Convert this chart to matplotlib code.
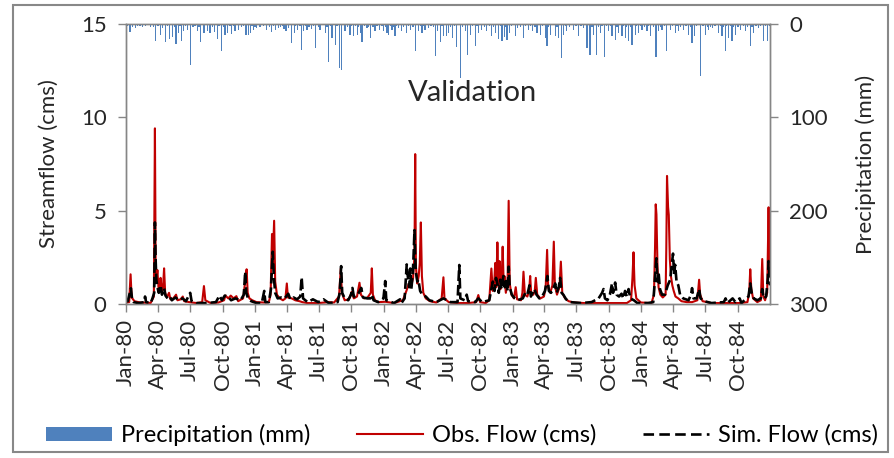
import numpy as np
import pandas as pd
import matplotlib
matplotlib.use("Agg")
import matplotlib.pyplot as plt
import matplotlib.dates as mdates
from matplotlib.lines import Line2D
from matplotlib.patches import Patch, Rectangle

plt.rcParams['font.family'] = ['Lato', 'DejaVu Sans']

start = pd.Timestamp('1980-01-01')

obs_day = [0, 9, 13, 16, 24, 40, 70, 79, 82, 84, 86, 89, 92, 96, 98, 102, 105, 108, 111, 116,
           122, 126, 134, 142, 146, 155, 161, 165, 180, 200, 216, 221, 225, 240, 262, 278, 282,
           290, 297, 305, 313, 318, 332, 338, 342, 345, 350, 358, 370, 390, 405, 410, 414, 416,
           420, 423, 428, 436, 445, 452, 456, 459, 470, 480, 492, 500, 515, 545, 575, 590, 604,
           609, 612, 620, 632, 640, 646, 655, 662, 666, 675, 685, 694, 697, 700, 706, 715, 735,
           760, 785, 795, 802, 808, 814, 818, 820, 822, 826, 830, 833, 836, 839, 843, 850, 862,
           880, 895, 900, 903, 915, 940, 970, 993, 999, 1004, 1020, 1030, 1036, 1040, 1044, 1047,
           1050, 1053, 1056, 1059, 1062, 1065, 1068, 1071, 1073, 1077, 1082, 1085, 1088, 1093,
           1100, 1105, 1109, 1120, 1124, 1127, 1131, 1138, 1143, 1146, 1149, 1155, 1159, 1162,
           1166, 1175, 1185, 1190, 1194, 1197, 1203, 1209, 1213, 1216, 1222, 1229, 1233, 1237,
           1245, 1255, 1270, 1300, 1340, 1380, 1420, 1432, 1436, 1439, 1442, 1447, 1460, 1490,
           1497, 1500, 1502, 1504, 1507, 1510, 1515, 1522, 1530, 1532, 1534, 1537, 1539, 1542,
           1545, 1549, 1553, 1558, 1566, 1575, 1590, 1605, 1620, 1625, 1628, 1635, 1660, 1700,
           1740, 1762, 1767, 1770, 1773, 1778, 1790, 1800, 1804, 1807, 1812, 1818, 1822, 1824, 1826]
obs_cms = [0.08, 0.1, 1.59, 0.35, 0.15, 0.08, 0.06, 0.4, 9.41, 2.2, 1.2, 1.82, 0.9, 0.7, 1.4, 0.6,
           0.9, 1.91, 0.6, 0.35, 0.6, 0.25, 0.3, 0.5, 0.2, 0.25, 0.4, 0.15, 0.1, 0.05, 0.1, 0.96,
           0.2, 0.05, 0.08, 0.2, 0.45, 0.3, 0.45, 0.3, 0.42, 0.15, 0.3, 1.2, 1.86, 0.6, 0.3, 0.2,
           0.1, 0.08, 0.1, 0.5, 3.75, 2.2, 4.46, 1.2, 0.5, 0.3, 0.2, 0.3, 1.1, 0.35, 0.3, 0.2, 0.15,
           0.1, 0.05, 0.05, 0.1, 0.08, 0.4, 1.9, 0.6, 0.2, 0.25, 0.65, 0.3, 0.4, 1.14, 0.5, 0.3,
           0.35, 0.6, 1.91, 0.5, 0.2, 0.1, 0.12, 0.05, 0.2, 0.7, 1.1, 0.9, 1.4, 2.6, 8.03, 2.0,
           1.1, 1.5, 2.2, 4.37, 1.5, 0.6, 0.3, 0.15, 0.08, 0.3, 1.43, 0.3, 0.1, 0.05, 0.05, 0.1,
           0.48, 0.1, 0.05, 0.2, 1.9, 0.7, 1.1, 2.2, 0.9, 3.3, 1.0, 2.3, 0.8, 1.2, 3.07, 1.0, 1.5,
           0.6, 1.2, 5.53, 1.1, 0.5, 0.3, 0.9, 0.25, 0.2, 0.6, 1.73, 0.5, 0.4, 0.7, 1.5, 0.5, 0.5,
           0.7, 1.4, 0.5, 0.3, 0.4, 0.9, 2.9, 0.9, 0.6, 1.0, 3.34, 1.0, 0.5, 0.9, 2.27, 0.6, 0.3,
           0.15, 0.08, 0.05, 0.05, 0.05, 0.05, 0.2, 1.4, 2.77, 1.0, 0.3, 0.08, 0.05, 0.5, 3.0,
           5.34, 4.8, 2.0, 0.9, 0.5, 0.35, 0.5, 3.0, 6.86, 5.2, 4.77, 2.4, 1.5, 1.0, 0.7, 0.4, 0.3,
           0.15, 0.1, 0.1, 0.2, 1.3, 0.5, 0.15, 0.05, 0.05, 0.05, 0.1, 0.6, 1.86, 0.8, 0.3, 0.1,
           0.2, 2.41, 0.4, 0.2, 0.6, 5.18, 2.5, 2.0]

# simulated flow (cms)
sim_day = [0, 5, 14, 17, 22, 35, 52, 54, 57, 70, 75, 80, 82, 84, 86, 89, 93, 98, 102, 108, 112,
           118, 124, 130, 140, 150, 160, 170, 182, 186, 200, 230, 255, 265, 272, 280, 290, 298,
           310, 325, 334, 338, 341, 346, 355, 370, 385, 392, 395, 405, 411, 416, 419, 423, 430,
           440, 450, 460, 466, 475, 485, 494, 498, 502, 515, 530, 545, 560, 575, 600, 606, 610,
           613, 620, 630, 638, 642, 646, 655, 660, 667, 672, 684, 693, 697, 702, 715, 730, 735,
           738, 760, 777, 781, 790, 796, 799, 803, 806, 809, 813, 815, 818, 820, 822, 826, 829,
           834, 840, 850, 860, 880, 900, 920, 940, 945, 948, 960, 966, 970, 990, 999, 1010, 1030,
           1036, 1040, 1045, 1049, 1053, 1057, 1061, 1065, 1070, 1074, 1078, 1082, 1085, 1088,
           1094, 1100, 1110, 1125, 1132, 1138, 1144, 1148, 1153, 1158, 1164, 1172, 1180, 1188,
           1195, 1199, 1205, 1211, 1217, 1221, 1227, 1231, 1235, 1240, 1248, 1260, 1290, 1320,
           1340, 1350, 1354, 1358, 1365, 1372, 1378, 1381, 1387, 1391, 1398, 1405, 1410, 1415,
           1420, 1425, 1430, 1440, 1450, 1480, 1495, 1500, 1504, 1507, 1510, 1514, 1520, 1528,
           1536, 1543, 1548, 1551, 1554, 1557, 1561, 1566, 1571, 1580, 1595, 1602, 1605, 1609,
           1618, 1625, 1629, 1640, 1660, 1695, 1700, 1705, 1720, 1728, 1740, 1745, 1765, 1770,
           1774, 1780, 1790, 1800, 1804, 1808, 1815, 1820, 1822, 1826]
sim_cms = [0.2, 0.15, 0.84, 0.3, 0.1, 0.05, 0.1, 0.4, 0.1, 0.05, 0.3, 0.6, 4.37, 2.4, 1.3, 0.9,
           0.6, 1.0, 0.5, 0.84, 0.45, 0.3, 0.4, 0.2, 0.35, 0.2, 0.3, 0.15, 0.6, 0.15, 0.05, 0.05,
           0.1, 0.45, 0.2, 0.45, 0.4, 0.2, 0.3, 0.2, 0.5, 1.73, 0.6, 0.3, 0.15, 0.05, 0.05, 0.7,
           0.1, 0.1, 0.8, 2.8, 1.5, 0.6, 0.3, 0.35, 0.3, 0.55, 0.25, 0.35, 0.25, 0.4, 1.43, 0.3,
           0.1, 0.25, 0.1, 0.25, 0.05, 0.1, 0.6, 2.03, 0.6, 0.3, 0.2, 0.5, 0.86, 0.4, 0.45, 0.6,
           0.86, 0.35, 0.3, 0.3, 0.5, 0.2, 0.1, 0.3, 1.23, 0.2, 0.05, 0.25, 0.05, 0.3, 2.12, 1.5,
           0.9, 1.9, 0.8, 1.6, 2.4, 3.96, 2.5, 1.7, 1.2, 1.3, 0.7, 0.5, 0.4, 0.2, 0.1, 0.3, 0.1,
           0.1, 2.09, 0.3, 0.2, 0.5, 0.15, 0.1, 0.3, 0.1, 0.2, 0.8, 1.2, 0.7, 1.4, 1.1, 0.6, 1.3,
           0.8, 1.5, 0.9, 1.3, 0.7, 2.0, 0.9, 0.5, 0.35, 0.2, 0.3, 0.6, 0.5, 1.0, 0.4, 0.6, 0.8,
           0.5, 0.3, 0.4, 0.7, 1.5, 0.7, 0.6, 0.8, 1.1, 0.6, 0.9, 1.4, 0.6, 0.5, 0.25, 0.1, 0.05,
           0.1, 0.3, 0.6, 0.8, 0.3, 0.2, 0.5, 1.1, 0.6, 1.15, 0.5, 0.4, 0.55, 0.3, 0.7, 0.4, 0.8,
           0.3, 0.2, 0.05, 0.05, 0.1, 1.4, 2.45, 1.2, 1.7, 0.8, 0.5, 0.5, 1.0, 1.3, 2.2, 2.7, 1.6,
           2.1, 1.2, 1.0, 0.5, 0.3, 0.2, 0.5, 0.85, 0.3, 0.3, 0.8, 0.3, 0.15, 0.05, 0.1, 0.3,
           0.05, 0.3, 0.1, 0.3, 0.05, 0.4, 1.1, 0.6, 0.3, 0.2, 0.3, 0.8, 0.3, 0.4, 1.4, 2.3, 1.0]

# daily precipitation (mm), rows of 15
precip_day = [11, 26, 84, 98, 111, 123, 132, 142, 148, 158, 163, 175, 182, 202, 212,
              221, 231, 238, 251, 259, 270, 281, 288, 300, 309, 319, 338, 342, 347, 352,
              361, 371, 399, 413, 423, 432, 448, 454, 470, 477, 486, 498, 503, 513, 527,
              538, 550, 565, 574, 584, 593, 605, 612, 621, 635, 645, 656, 664, 669, 683,
              694, 706, 719, 730, 740, 744, 754, 763, 773, 782, 796, 806, 820, 829, 839,
              848, 858, 877, 883, 891, 900, 908, 914, 926, 938, 948, 962, 969, 976, 990,
              999, 1009, 1023, 1037, 1047, 1056, 1066, 1073, 1080, 1087, 1104, 1111, 1127, 1141, 1153,
              1165, 1175, 1189, 1194, 1203, 1217, 1226, 1234, 1241, 1250, 1269, 1283, 1297, 1307, 1316,
              1326, 1335, 1345, 1357, 1368, 1378, 1387, 1397, 1406, 1416, 1425, 1435, 1444, 1453, 1463,
              1477, 1487, 1503, 1510, 1520, 1532, 1543, 1558, 1567, 1581, 1595, 1605, 1612, 1628, 1643,
              1652, 1662, 1680, 1690, 1699, 1709, 1718, 1728, 1742, 1756, 1770, 1780, 1794, 1808, 1818]
precip_mm = [8.6, 4.3, 17.9, 12.1, 19.3, 15.7, 14.3, 21.4, 9.6, 17.9, 7.9, 6.1, 44.3, 7.9, 19.3,
             9.6, 7.9, 9.6, 8.6, 15.7, 29.3, 11.4, 9.6, 10.7, 7.9, 6.1, 11.4, 11.4, 11.4, 10.0,
             6.1, 4.3, 6.1, 8.6, 6.1, 4.3, 5.0, 7.9, 20.4, 9.6, 6.1, 27.5, 7.9, 6.1, 5.0,
             25.7, 6.1, 9.6, 41.0, 15.0, 22.1, 47.1, 48.9, 7.1, 11.4, 13.2, 11.4, 9.6, 19.3, 4.3,
             15.0, 7.9, 6.1, 7.9, 9.6, 11.4, 6.1, 13.2, 4.3, 7.9, 9.6, 6.1, 29.3, 7.9, 9.6,
             6.1, 4.3, 34.6, 7.9, 19.3, 13.2, 13.2, 9.6, 15.0, 25.0, 57.9, 7.9, 32.9, 11.4, 23.9,
             9.6, 6.1, 7.9, 13.2, 9.6, 15.7, 18.6, 14.3, 16.8, 9.6, 13.2, 4.3, 15.0, 6.1, 7.9,
             9.6, 11.4, 15.0, 23.9, 11.4, 13.2, 15.0, 36.4, 11.4, 7.9, 6.1, 13.2, 4.3, 25.7, 32.9,
             11.4, 32.9, 9.6, 35.7, 7.9, 13.2, 16.8, 9.6, 13.2, 15.0, 18.6, 22.1, 11.4, 9.6, 6.1,
             7.9, 13.2, 35.7, 7.9, 6.1, 29.3, 6.1, 9.6, 7.9, 6.1, 11.4, 20.4, 13.2, 56.0, 11.4,
             6.1, 4.3, 9.6, 13.2, 29.3, 15.0, 18.6, 11.4, 6.1, 7.9, 23.9, 9.6, 4.3, 18.6, 18.6]

# light rain days, rows of 16
drizzle_day = [3, 18, 33, 40, 47, 55, 62, 70, 77, 91, 104, 117, 137, 153, 168, 190,
               196, 207, 226, 245, 264, 276, 295, 304, 328, 333, 357, 366, 380, 389, 406, 418,
               438, 443, 460, 481, 493, 508, 519, 532, 545, 557, 570, 580, 598, 628, 640, 651,
               660, 676, 688, 700, 712, 726, 735, 750, 759, 768, 787, 801, 814, 835, 845, 865,
               871, 896, 921, 931, 955, 983, 995, 1016, 1030, 1042, 1061, 1077, 1093, 1118, 1133, 1147,
               1160, 1180, 1198, 1210, 1222, 1246, 1258, 1276, 1290, 1321, 1340, 1350, 1362, 1373, 1392, 1410,
               1420, 1430, 1448, 1458, 1470, 1482, 1495, 1515, 1526, 1550, 1562, 1573, 1588, 1600, 1618, 1636,
               1648, 1657, 1670, 1685, 1695, 1703, 1714, 1723, 1735, 1750, 1762, 1775, 1786, 1800, 1813, 1824]
drizzle_mm = [2.5, 3.0, 1.8, 2.2, 3.5, 2.0, 1.5, 2.8, 3.2, 2.5, 4.0, 2.2, 3.0, 1.8, 2.6, 3.4,
              2.0, 2.8, 1.6, 3.0, 2.4, 3.6, 1.8, 2.2, 3.0, 2.5, 1.7, 2.9, 3.3, 2.0, 2.7, 1.9,
              3.1, 2.3, 3.8, 2.0, 2.6, 1.8, 3.4, 2.2, 2.9, 1.6, 3.0, 2.4, 2.0, 3.2, 2.6, 1.9,
              3.5, 2.1, 2.8, 3.0, 1.7, 2.5, 3.3, 2.2, 2.9, 1.8, 3.1, 2.4, 3.7, 2.0, 2.6, 1.9,
              3.0, 2.3, 2.8, 1.7, 3.2, 2.1, 2.6, 3.4, 2.0, 2.8, 1.9, 3.1, 2.4, 3.0, 1.8, 2.5,
              3.3, 2.2, 2.7, 1.6, 3.0, 2.4, 3.6, 2.0, 1.8, 2.9, 3.1, 2.3, 2.6, 1.9, 3.4, 2.2,
              2.8, 3.0, 1.7, 2.5, 3.2, 2.1, 2.7, 3.5, 2.0, 2.4, 1.8, 3.0, 2.6, 3.3, 2.2, 1.9,
              2.8, 3.1, 2.0, 2.5, 3.6, 2.3, 1.8, 2.9, 3.2, 2.1, 2.7, 3.0, 2.4, 1.9, 2.6, 2.2]

obs_dates = start + pd.to_timedelta(obs_day, unit='D')
sim_dates = start + pd.to_timedelta(sim_day, unit='D')
p_dates = start + pd.to_timedelta(precip_day + drizzle_day, unit='D')
p_vals = precip_mm + drizzle_mm

W, H = 895, 458
fig = plt.figure(figsize=(W / 100, H / 100), dpi=100)
ax = fig.add_axes([126 / W, 1 - 304 / H, 644 / W, 280 / H])
ax2 = ax.twinx()

ax.plot(obs_dates, obs_cms, color='#C00000', lw=1.5, zorder=3)
ax.plot(sim_dates, sim_cms, color='black', lw=1.9, dashes=(4, 1.5), zorder=4)
ax2.bar(p_dates, p_vals, width=3.6, color='#4F81BD', linewidth=0)

grey = '#868686'
ax.set_xlim(pd.Timestamp('1980-01-01'), pd.Timestamp('1984-12-31'))
ax.set_ylim(0, 15)
ax.set_yticks([0, 5, 10, 15])
ax2.set_ylim(300, 0)
ax2.set_yticks([0, 100, 200, 300])
ax.xaxis.set_major_locator(mdates.MonthLocator(bymonth=[1, 4, 7, 10]))
ax.xaxis.set_major_formatter(mdates.DateFormatter('%b-%y'))
plt.setp(ax.get_xticklabels(), rotation=90)

for a in (ax, ax2):
    for s in a.spines.values():
        s.set_color(grey)
        s.set_linewidth(1)
    a.tick_params(colors=grey, labelcolor='#262626', labelsize=16, length=6, width=1, pad=8)
ax.tick_params(axis='x', pad=5)

ax.set_ylabel('Streamflow (cms)', fontsize=16, color='#262626', labelpad=16)
ax2.set_ylabel('Precipitation (mm)', fontsize=16, color='#262626', labelpad=20)
ax.text(0.538, 0.755, 'Validation', transform=ax.transAxes, ha='center', va='center',
        fontsize=21, color='#262626')

handles = [Patch(facecolor='#4F81BD', edgecolor='none'),
           Line2D([], [], color='#C00000', lw=1.5),
           Line2D([], [], color='black', lw=1.9, dashes=(4, 2))]
labels = ['Precipitation (mm)', 'Obs. Flow (cms)', 'Sim. Flow (cms)']
fig.legend(handles, labels, loc='center', bbox_to_anchor=(462 / W, 1 - 435 / H), ncol=3,
           frameon=False, fontsize=17, handlelength=2.8, handleheight=0.55,
           handletextpad=0.35, columnspacing=2.0)

fig.patches.append(Rectangle((13 / W, 1 - 452 / H), 875 / W, 447 / H, transform=fig.transFigure,
                             fill=False, edgecolor='#888888', lw=1.5))

fig.savefig('out.png', dpi=100)
